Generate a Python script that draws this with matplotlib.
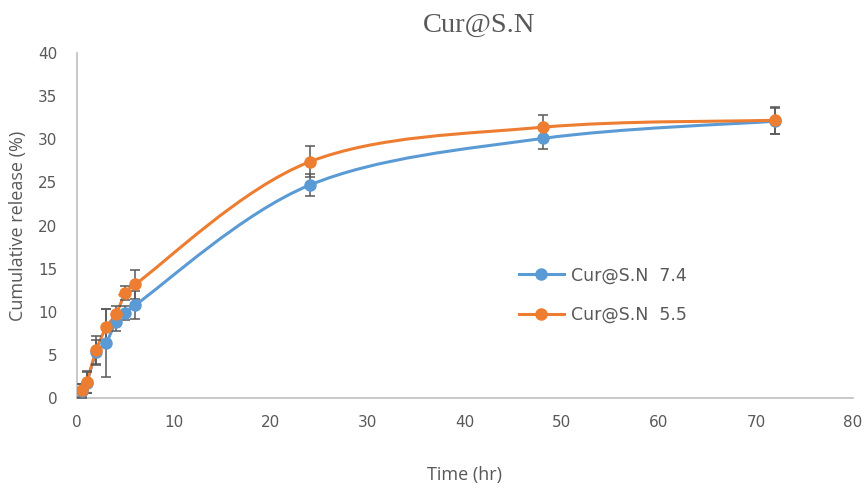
import matplotlib.pyplot as plt
from matplotlib.path import Path
from matplotlib.patches import PathPatch

time_hr = [0.5, 1, 2, 3, 4, 5, 6, 24, 48, 72]
release_74 = [0.8, 1.8, 5.3, 6.4, 8.8, 9.9, 10.8, 24.7, 30.1, 32.1]
err_74 = [0.8, 1.2, 1.5, 3.9, 1.0, 0.8, 1.6, 1.3, 1.2, 1.5]
release_55 = [0.9, 1.9, 5.6, 8.2, 9.7, 12.2, 13.2, 27.4, 31.4, 32.2]
err_55 = [0.8, 1.3, 1.6, 2.1, 1.0, 0.8, 1.7, 1.8, 1.4, 1.6]

labels = ['Cur@S.N  7.4', 'Cur@S.N  5.5']
colors = ['#5b9bd5', '#ed7d31']


def smooth_path(x, y, t=1/6):
    # Excel-like smoothed line: cubic bezier through every point
    verts = [(x[0], y[0])]
    codes = [Path.MOVETO]
    n = len(x)
    for i in range(n - 1):
        x0, y0 = (x[i - 1], y[i - 1]) if i > 0 else (x[i], y[i])
        x3, y3 = (x[i + 2], y[i + 2]) if i + 2 < n else (x[i + 1], y[i + 1])
        c1 = (x[i] + (x[i + 1] - x0) * t, y[i] + (y[i + 1] - y0) * t)
        c2 = (x[i + 1] - (x3 - x[i]) * t, y[i + 1] - (y3 - y[i]) * t)
        verts += [c1, c2, (x[i + 1], y[i + 1])]
        codes += [Path.CURVE4] * 3
    return Path(verts, codes)


fig = plt.figure(figsize=(8.65, 4.91), dpi=100)
ax = fig.add_axes([0.089, 0.189, 0.897, 0.703])

for ys, es, lab, c in [(release_74, err_74, labels[0], colors[0]),
                       (release_55, err_55, labels[1], colors[1])]:
    ax.add_patch(PathPatch(smooth_path(time_hr, ys), fill=False, edgecolor=c, lw=2.2, zorder=2))
    ax.errorbar(time_hr, ys, yerr=es, fmt='none', ecolor='#595959', elinewidth=1.1,
                capsize=3.5, capthick=1.1, zorder=3)
    ax.plot(time_hr, ys, 'o', color=c, markersize=8, zorder=4)
    ax.plot([], [], '-o', color=c, lw=2.2, markersize=8, label=lab)

ax.set_xlim(0, 80)
ax.set_ylim(0, 40)
ax.set_xticks(range(0, 81, 10))
ax.set_yticks(range(0, 41, 5))
ax.tick_params(length=0, labelsize=11, labelcolor='#595959')
ax.tick_params(axis='y', pad=14)
ax.tick_params(axis='x', pad=12)
for s in ['top', 'right']:
    ax.spines[s].set_visible(False)
for s in ['left', 'bottom']:
    ax.spines[s].set_color('#bfbfbf')
    ax.spines[s].set_linewidth(1.2)

ax.set_xlabel('Time (hr)', fontsize=13, color='#595959', family='Open Sans', labelpad=26)
ax.set_ylabel('Cumulative release (%)', fontsize=13, color='#595959', family='Open Sans', labelpad=8)

fig.text(0.554, 0.948, 'Cur@S.N', ha='center', va='center', fontsize=20.5,
         color='#595959', family='Liberation Serif')

leg = ax.legend(loc='center left', bbox_to_anchor=(0.549, 0.298), frameon=False,
                fontsize=12.5, handlelength=2.6, labelspacing=1.25, handletextpad=0.4)
for t in leg.get_texts():
    t.set_color('#595959')

fig.savefig('out.png', dpi=100)
